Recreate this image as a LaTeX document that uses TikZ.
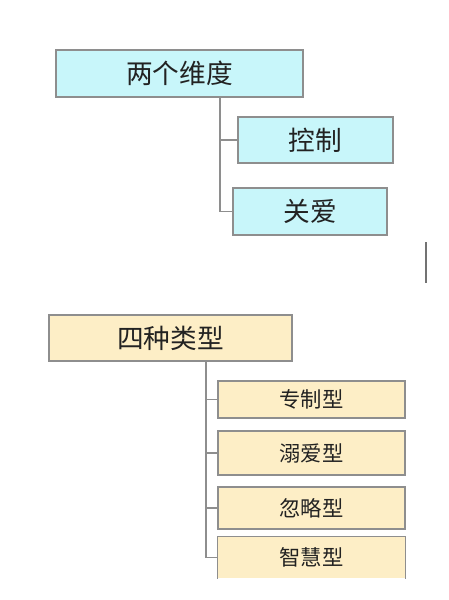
\documentclass[tikz,border=0pt]{standalone}
\usepackage{fontspec}
\setmainfont{Noto Sans CJK SC}
\definecolor{dimfill}{HTML}{C8F6FA}
\definecolor{kindfill}{HTML}{FDEEC6}
\definecolor{edgegray}{HTML}{8E8E8E}
\definecolor{inkgray}{HTML}{222222}
\begin{document}
\begin{tikzpicture}[
        x=0.75pt, y=-0.75pt,
        font=\fontsize{20pt}{22pt}\selectfont, text=inkgray,
        box/.style={rectangle, draw=edgegray, line width=0.9pt, inner sep=0pt},
        dim/.style={box, fill=dimfill},
        kind/.style={box, fill=kindfill},
        item/.style={kind, minimum width=140.25pt, font=\fontsize{16pt}{18pt}\selectfont},
        link/.style={draw=edgegray, line width=1.1pt}
    ]
    \useasboundingbox (0,0) rectangle (449,600);
    % Two dimensions
    \node[dim, minimum width=185.25pt, minimum height=35.25pt] (dims) at (179.5,73.5) {两个维度};
    \node[dim, minimum width=116.25pt, minimum height=34.5pt] (ctrl) at (315.5,140) {控制};
    \node[dim, minimum width=115.5pt, minimum height=35.25pt] (care) at (310,211.5) {关爱};
    \coordinate (dimspine) at (dims.south -| 220,0);
    \draw[link] (dimspine) |- (ctrl.west);
    \draw[link] (dimspine) |- (care.west);
    % stray mark
    \draw[line width=1.2pt, draw=black!55] (426,242) -- (426,283);
    % Four kinds
    \node[kind, minimum width=182.25pt, minimum height=34.5pt] (kinds) at (170.5,338) {四种类型};
    \node[item, minimum height=27.75pt] (autoc) at (311.5,399.5) {专制型};
    \node[item, minimum height=33pt] (indul) at (311.5,453) {溺爱型};
    \node[item, minimum height=31.5pt] (negl) at (311.5,508) {忽略型};
    \node[item, draw=none, minimum height=30.75pt] (wise) at (311.5,557.5) {智慧型};
    \draw[draw=edgegray, line width=0.9pt] (wise.south west) -- (wise.north west) -- (wise.north east) -- (wise.south east);
    \coordinate (kindspine) at (kinds.south -| 206,0);
    \foreach \k in {autoc, indul, negl, wise}
        \draw[link] (kindspine) |- (\k.west);
\end{tikzpicture}
\end{document}
